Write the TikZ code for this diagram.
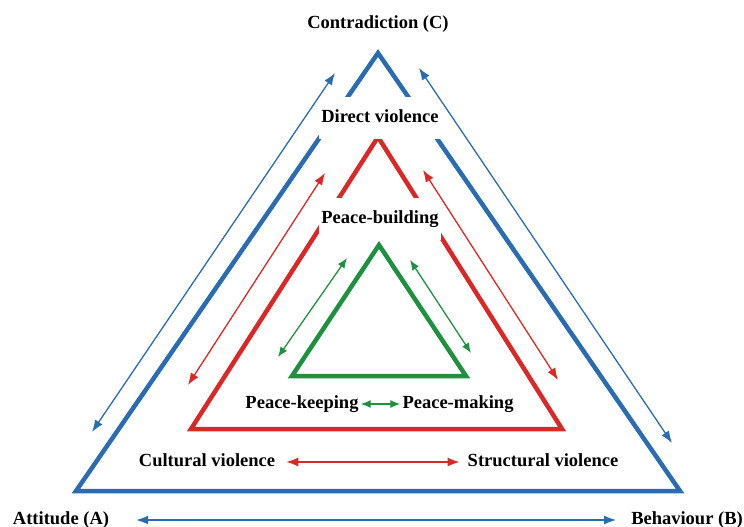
\documentclass[tikz,border=0pt]{standalone}
\usepackage{fontspec}
\setmainfont{Liberation Serif}
\usepackage{tikz}
\usetikzlibrary{arrows.meta}

\definecolor{tblue}{RGB}{42,108,178}
\definecolor{tred}{RGB}{218,40,40}
\definecolor{tgreen}{RGB}{30,145,65}

\begin{document}
\begin{tikzpicture}[
    x=1pt, y=-1pt,
    txt/.style={font=\bfseries\fontsize{18.5}{20}\selectfont, text height=13pt, text depth=4pt, inner xsep=2pt, inner ysep=2pt},
    gaptxt/.style={txt, fill=white, inner ysep=12.5pt},
    bluetri/.style={draw=tblue, line width=4.5pt},
    redtri/.style={draw=tred, line width=4.5pt},
    greentri/.style={draw=tgreen, line width=4.5pt},
    barrow/.style={<->, >={Latex[length=12pt,width=9pt]}, draw=tblue, line width=1.3pt},
    rarrow/.style={<->, >={Latex[length=12pt,width=9pt]}, draw=tred, line width=1.3pt},
    garrow/.style={<->, >={Latex[length=10pt,width=8pt]}, draw=tgreen, line width=1.3pt}
]
\useasboundingbox (0,0) rectangle (744,527);

% Corners
\coordinate (bTop) at (378,53);
\coordinate (bLeft) at (76,491);
\coordinate (bRight) at (680,491);
\coordinate (rTop) at (378,137);
\coordinate (rLeft) at (191,429);
\coordinate (rRight) at (562,429);
\coordinate (gTop) at (379,245);
\coordinate (gLeft) at (292,376);
\coordinate (gRight) at (466,376);

% Triangles
\draw[bluetri] (bTop) -- (bRight) -- (bLeft) -- cycle;
\draw[redtri] (rTop) -- (rRight) -- (rLeft) -- cycle;
\draw[greentri] (gTop) -- (gRight) -- (gLeft) -- cycle;

% Nodes
\node[txt] (contradiction) at (378,24) {Contradiction (C)};
\node[gaptxt] (direct) at (380,118) {Direct violence};
\node[gaptxt] (building) at (380,219) {Peace-building};
\node[txt] (keeping) at (302,404) {Peace-keeping};
\node[txt] (making) at (458,404) {Peace-making};
\node[txt] (cultural) at (207,462) {Cultural violence};
\node[txt] (structural) at (543,462) {Structural violence};
\node[txt] (attitude) at (61,520) {Attitude (A)};
\node[txt] (behaviour) at (687,520) {Behaviour (B)};

% Arrow ends
\coordinate (bL1) at (92,432);
\coordinate (bL2) at (335,73);
\coordinate (bR1) at (419,68);
\coordinate (bR2) at (672,443);
\coordinate (rL1) at (188,385);
\coordinate (rL2) at (325,173);
\coordinate (rR1) at (423,170);
\coordinate (rR2) at (558,380);
\coordinate (gL1) at (278,357);
\coordinate (gL2) at (347,258);
\coordinate (gR1) at (410,260);
\coordinate (gR2) at (471,353);

% Arrows
\draw[barrow] (bL1) -- (bL2);
\draw[barrow] (bR1) -- (bR2);
\draw[barrow, shorten <=25pt, shorten >=13pt] (attitude) -- (behaviour);
\draw[rarrow] (rL1) -- (rL2);
\draw[rarrow] (rR1) -- (rR2);
\draw[rarrow, shorten <=9pt, shorten >=6pt] (cultural) -- (structural);
\draw[garrow] (gL1) -- (gL2);
\draw[garrow] (gR1) -- (gR2);
\draw[garrow] (keeping) -- (making);

\end{tikzpicture}
\end{document}
